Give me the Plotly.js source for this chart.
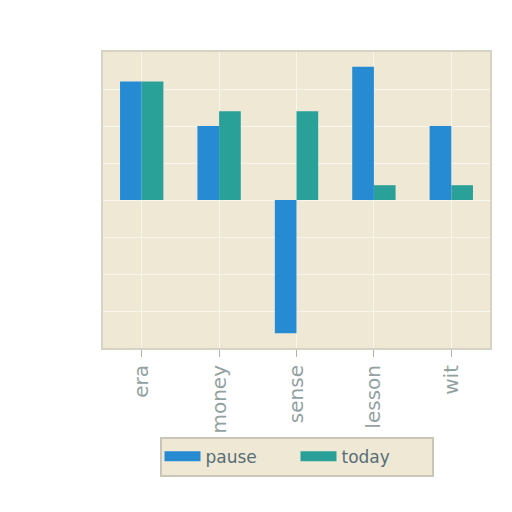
<!DOCTYPE html>
<html>
<head>
<meta charset="utf-8">
<script src="https://cdn.plot.ly/plotly-3.0.1.min.js"></script>
<style>
  html, body { margin: 0; padding: 0; background: #ffffff; }
  #chart { width: 512px; height: 512px; }
</style>
</head>
<body>
<div id="chart"></div>
<script>
// categories and series
const categories = ['era', 'money', 'sense', 'lesson', 'wit'];
const seriesNames = ['pause', 'today'];
const pauseValues = [32, 20, -36, 36, 20];
const todayValues = [32, 24, 24, 4, 4];
const seriesColors = ['#268bd2', '#2aa198'];

const barTraces = [pauseValues, todayValues].map((vals, i) => ({
  x: categories,
  y: vals,
  type: 'bar',
  name: seriesNames[i],
  legendgroup: seriesNames[i],
  showlegend: false,
  marker: { color: seriesColors[i] },
}));

// legend-only entries so the swatches are wide bands like the reference
const legendTraces = seriesNames.map((name, i) => ({
  x: [null],
  y: [null],
  type: 'scatter',
  mode: 'lines',
  name: name,
  legendgroup: name,
  line: { color: seriesColors[i], width: 12 },
  hoverinfo: 'skip',
}));

const layout = {
  width: 512,
  height: 512,
  paper_bgcolor: 'rgba(0,0,0,0)',
  plot_bgcolor: '#eee8d5',
  font: { family: 'DejaVu Sans, sans-serif', color: '#93a1a1', size: 16 },
  margin: { l: 103, r: 22, t: 52, b: 164 },
  barmode: 'group',
  bargap: 0.44,
  bargroupgap: 0,
  showlegend: true,
  xaxis: {
    tickangle: -90,
    ticks: 'outside',
    ticklen: 7,
    tickcolor: '#b5b1a5',
    ticklabelstandoff: 0,
    tickfont: { size: 20, color: '#93a1a1' },
    showgrid: true,
    gridcolor: '#f8f5ea',
    gridwidth: 1,
    showline: true,
    mirror: true,
    linecolor: '#d6d2c4',
    linewidth: 2,
    zeroline: false,
    automargin: false,
  },
  yaxis: {
    range: [-40, 40],
    dtick: 10,
    showticklabels: false,
    showgrid: true,
    gridcolor: '#f8f5ea',
    gridwidth: 1,
    zeroline: true,
    zerolinecolor: '#f8f5ea',
    zerolinewidth: 1,
    showline: true,
    mirror: true,
    linecolor: '#d6d2c4',
    linewidth: 2,
    automargin: false,
  },
  legend: {
    orientation: 'h',
    x: 0.5,
    xanchor: 'center',
    y: -0.3,
    yanchor: 'top',
    bgcolor: '#eee8d5',
    bordercolor: '#c9c5b8',
    borderwidth: 2,
    itemwidth: 36,
    entrywidth: 85,
    font: { size: 17, color: '#586e75' },
  },
};

Plotly.newPlot('chart', [...barTraces, ...legendTraces], layout, { displayModeBar: false, staticPlot: true });
</script>
</body>
</html>
